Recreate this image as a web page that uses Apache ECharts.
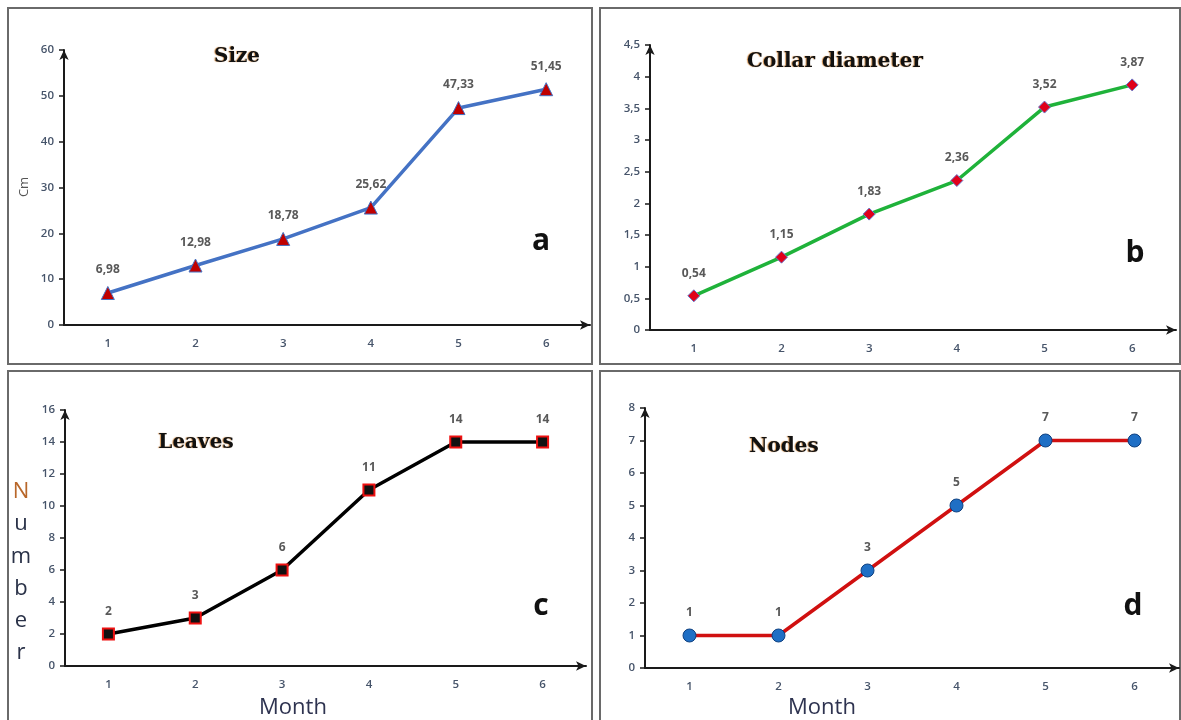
<!DOCTYPE html>
<html>
<head>
<meta charset="utf-8">
<script src="https://cdn.jsdelivr.net/npm/echarts@6/dist/echarts.min.js"></script>
<style>html,body{margin:0;padding:0;background:#fff;}#c{width:1181px;height:720px;}</style>
</head>
<body>
<div id="c"></div>
<script>
const months = ['1','2','3','4','5','6'];
const sizeValues = [6.98, 12.98, 18.78, 25.62, 47.33, 51.45];
const collarValues = [0.54, 1.15, 1.83, 2.36, 3.52, 3.87];
const leavesValues = [2, 3, 6, 11, 14, 14];
const nodesValues = [1, 1, 3, 5, 7, 7];
const panelTitles = ['Size', 'Collar diameter', 'Leaves', 'Nodes'];
const panelLetters = ['a', 'b', 'c', 'd'];
const yMax = [60, 4.5, 16, 8];
const yStep = [10, 0.5, 2, 1];

const chart = echarts.init(document.getElementById('c'));
const comma = v => String(v).replace('.', ',');

const grids = [
  {left: 64, top: 50, width: 526, height: 275},
  {left: 650, top: 45, width: 526, height: 285},
  {left: 65, top: 410, width: 521, height: 256},
  {left: 645, top: 408, width: 534, height: 260}
];

const tickFont = {color: '#46546a', fontFamily: 'Open Sans', fontWeight: 600, fontSize: 11.5};
const axisLine = {show: true, lineStyle: {color: '#1a1a1a', width: 2}, symbol: ['none', 'arrow'], symbolSize: [7, 10]};

const xAxes = grids.map((g, i) => ({
  type: 'category', gridIndex: i, data: months, boundaryGap: true,
  axisLine: axisLine, axisTick: {show: false},
  axisLabel: Object.assign({margin: 13}, tickFont),
  splitLine: {show: false}
}));
const yAxes = grids.map((g, i) => ({
  type: 'value', gridIndex: i, min: 0, max: yMax[i], interval: yStep[i],
  axisLine: axisLine,
  axisTick: {show: true, inside: false, length: 5, lineStyle: {color: '#1a1a1a', width: 1.5}},
  axisLabel: Object.assign({margin: 10, formatter: comma}, tickFont),
  splitLine: {show: false}
}));

const labelStyle = {show: true, position: 'top', distance: 10, color: '#595959', fontFamily: 'Open Sans', fontWeight: 700, fontSize: 12,
  formatter: p => comma(p.value)};

const series = [
  {type: 'line', xAxisIndex: 0, yAxisIndex: 0, data: sizeValues,
   lineStyle: {color: '#4472c4', width: 3.5}, symbol: 'triangle', symbolSize: 13,
   itemStyle: {color: '#c00000', borderColor: '#4472c4', borderWidth: 1}, label: labelStyle},
  {type: 'line', xAxisIndex: 1, yAxisIndex: 1, data: collarValues,
   lineStyle: {color: '#1fb23a', width: 3.5}, symbol: 'diamond', symbolSize: 12,
   itemStyle: {color: '#e0001a', borderColor: '#6677cc', borderWidth: 1}, label: labelStyle},
  {type: 'line', xAxisIndex: 2, yAxisIndex: 2, data: leavesValues,
   lineStyle: {color: '#000000', width: 3.5}, symbol: 'rect', symbolSize: 11,
   itemStyle: {color: '#111111', borderColor: '#ee1111', borderWidth: 2}, label: labelStyle},
  {type: 'line', xAxisIndex: 3, yAxisIndex: 3, data: nodesValues,
   lineStyle: {color: '#d01010', width: 3.5}, symbol: 'circle', symbolSize: 13,
   itemStyle: {color: '#1f6fc5', borderColor: '#0c3f80', borderWidth: 1}, label: labelStyle}
];

const titlePos = [[237, 57], [835, 62], [196, 443], [784, 447]];
const letterPos = [[541, 241], [1135, 253], [541, 606], [1133, 606]];

const graphic = [];
[[8, 8, 584, 356], [600, 8, 580, 356], [8, 371, 584, 360], [600, 371, 580, 360]].forEach(r => {
  graphic.push({type: 'rect', shape: {x: r[0], y: r[1], width: r[2], height: r[3]}, silent: true,
    style: {fill: 'none', stroke: '#6a6a6a', lineWidth: 2}, z: -1});
});
panelTitles.forEach((t, i) => {
  graphic.push({type: 'text', x: titlePos[i][0], y: titlePos[i][1], silent: true,
    style: {text: t, font: 'bold 20px "DejaVu Serif"', fill: '#111', textAlign: 'center', textVerticalAlign: 'middle',
      textShadowColor: 'rgba(200,120,40,0.8)', textShadowOffsetX: -1, textShadowOffsetY: 0, textShadowBlur: 1}});
});
panelLetters.forEach((t, i) => {
  graphic.push({type: 'text', x: letterPos[i][0], y: letterPos[i][1], silent: true,
    style: {text: t, font: 'bold 30px "Open Sans"', fill: '#111', textAlign: 'center', textVerticalAlign: 'middle'}});
});
graphic.push({type: 'text', x: 24, y: 187, rotation: Math.PI / 2, silent: true,
  style: {text: 'Cm', font: '13px "Open Sans"', fill: '#555', textAlign: 'center', textVerticalAlign: 'middle'}});
const numberLetters = ['N', 'u', 'm', 'b', 'e', 'r'];
numberLetters.forEach((ch, k) => {
  graphic.push({type: 'text', x: 21, y: 492 + k * 32.2, silent: true,
    style: {text: ch, font: '22px "Open Sans"', fill: k === 0 ? '#b8672a' : '#2a3248', textAlign: 'center', textVerticalAlign: 'middle'}});
});
[[293, 708], [822, 708]].forEach(p => {
  graphic.push({type: 'text', x: p[0], y: p[1], silent: true,
    style: {text: 'Month', font: '22px "Open Sans"', fill: '#2e3350', textAlign: 'center', textVerticalAlign: 'middle'}});
});

chart.setOption({
  animation: false,
  backgroundColor: '#ffffff',
  grid: grids,
  xAxis: xAxes,
  yAxis: yAxes,
  series: series,
  graphic: graphic
});
</script>
</body>
</html>
